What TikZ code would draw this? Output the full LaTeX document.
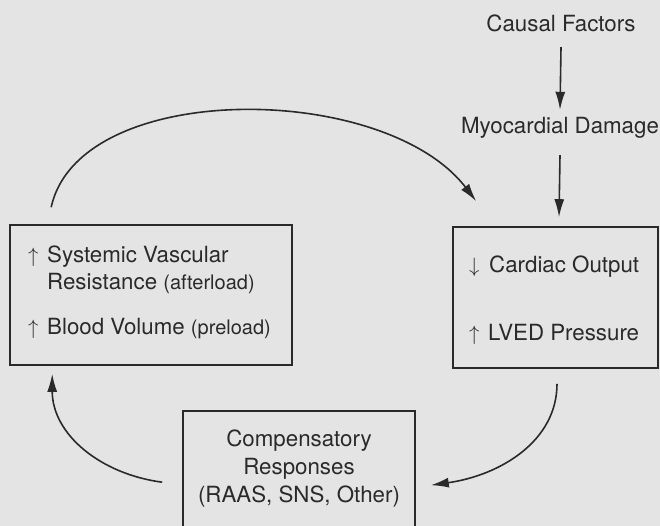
\documentclass[tikz,border=0pt]{standalone}
\usepackage{fontspec}
\setmainfont{TeX Gyre Heros}
\usetikzlibrary{arrows.meta}
\definecolor{paper}{HTML}{E4E4E4}
\definecolor{ink}{HTML}{2A2A2A}
\newcommand{\paren}[1]{{\fontsize{20pt}{24pt}\selectfont #1}}
\newcommand{\up}{\makebox[19pt][l]{$\uparrow$}}
\newcommand{\down}{\makebox[20pt][l]{$\downarrow$}}
\tikzset{
  box/.style={rectangle, draw=ink, line width=1.6pt},
  term/.style={text=ink, inner sep=0pt, text height=16pt, text depth=5pt,
    font=\fontsize{22.3pt}{28pt}\selectfont},
  line/.style={-{Latex[length=18pt,width=10pt]}, line width=1.6pt, draw=ink}
}
\begin{document}
\begin{tikzpicture}[x=1pt,y=-1pt]
  \fill[paper] (0,0) rectangle (660,526);
  \useasboundingbox (0,0) rectangle (660,526);
  \clip (0,0) rectangle (660,526);

  % cause chain
  \node[term] (cause) at (561,26) {Causal Factors};
  \node[term] (damage) at (560,128) {Myocardial Damage};

  % boxes
  \node[box, minimum width=282pt, minimum height=140pt] (effects) at (151,295) {};
  \node[box, minimum width=205pt, minimum height=141pt] (outbox) at (555.5,297.5) {};
  \node[box, minimum width=232pt, minimum height=140pt] (compbox) at (299,481) {};

  \node[term, anchor=west] (svr) at (28,257) {\up Systemic Vascular};
  \node[term, anchor=west] (resist) at (47,284) {Resistance \paren{(afterload)}};
  \node[term, anchor=west] (volume) at (28,329) {\up Blood Volume \paren{(preload)}};

  \node[term, anchor=west] (output) at (469,267) {\down Cardiac Output};
  \node[term, anchor=west] (lved) at (469,335) {\up LVED Pressure};

  \node[term, align=center, text height=, text depth=] (comptext) at (299,469)
    {Compensatory\\Responses\\(RAAS, SNS, Other)};

  % connectors
  \draw[line] ([yshift=-10.5pt]cause.south) -- ([yshift=7.5pt]damage.north);
  \draw[line] ([yshift=-16.5pt]damage.south) -- ([xshift=-1pt,yshift=9pt]damage.south |- outbox.north);

  \draw[line] ([xshift=42pt,yshift=17pt]effects.north west)
    .. controls +(28,-128) and +(-92,-120) .. ([xshift=24pt,yshift=25pt]outbox.north west);
  \draw[line] ([xshift=1.5pt,yshift=-15pt]outbox.south)
    .. controls +(0,57) and +(70,-10) .. ([xshift=15pt,yshift=-75pt]compbox.north east);
  \draw[line] ([xshift=-20pt,yshift=-72pt]compbox.north west)
    .. controls +(-61,-8) and +(0,61) .. ([xshift=43pt,yshift=-8pt]effects.south west);
\end{tikzpicture}
\end{document}
